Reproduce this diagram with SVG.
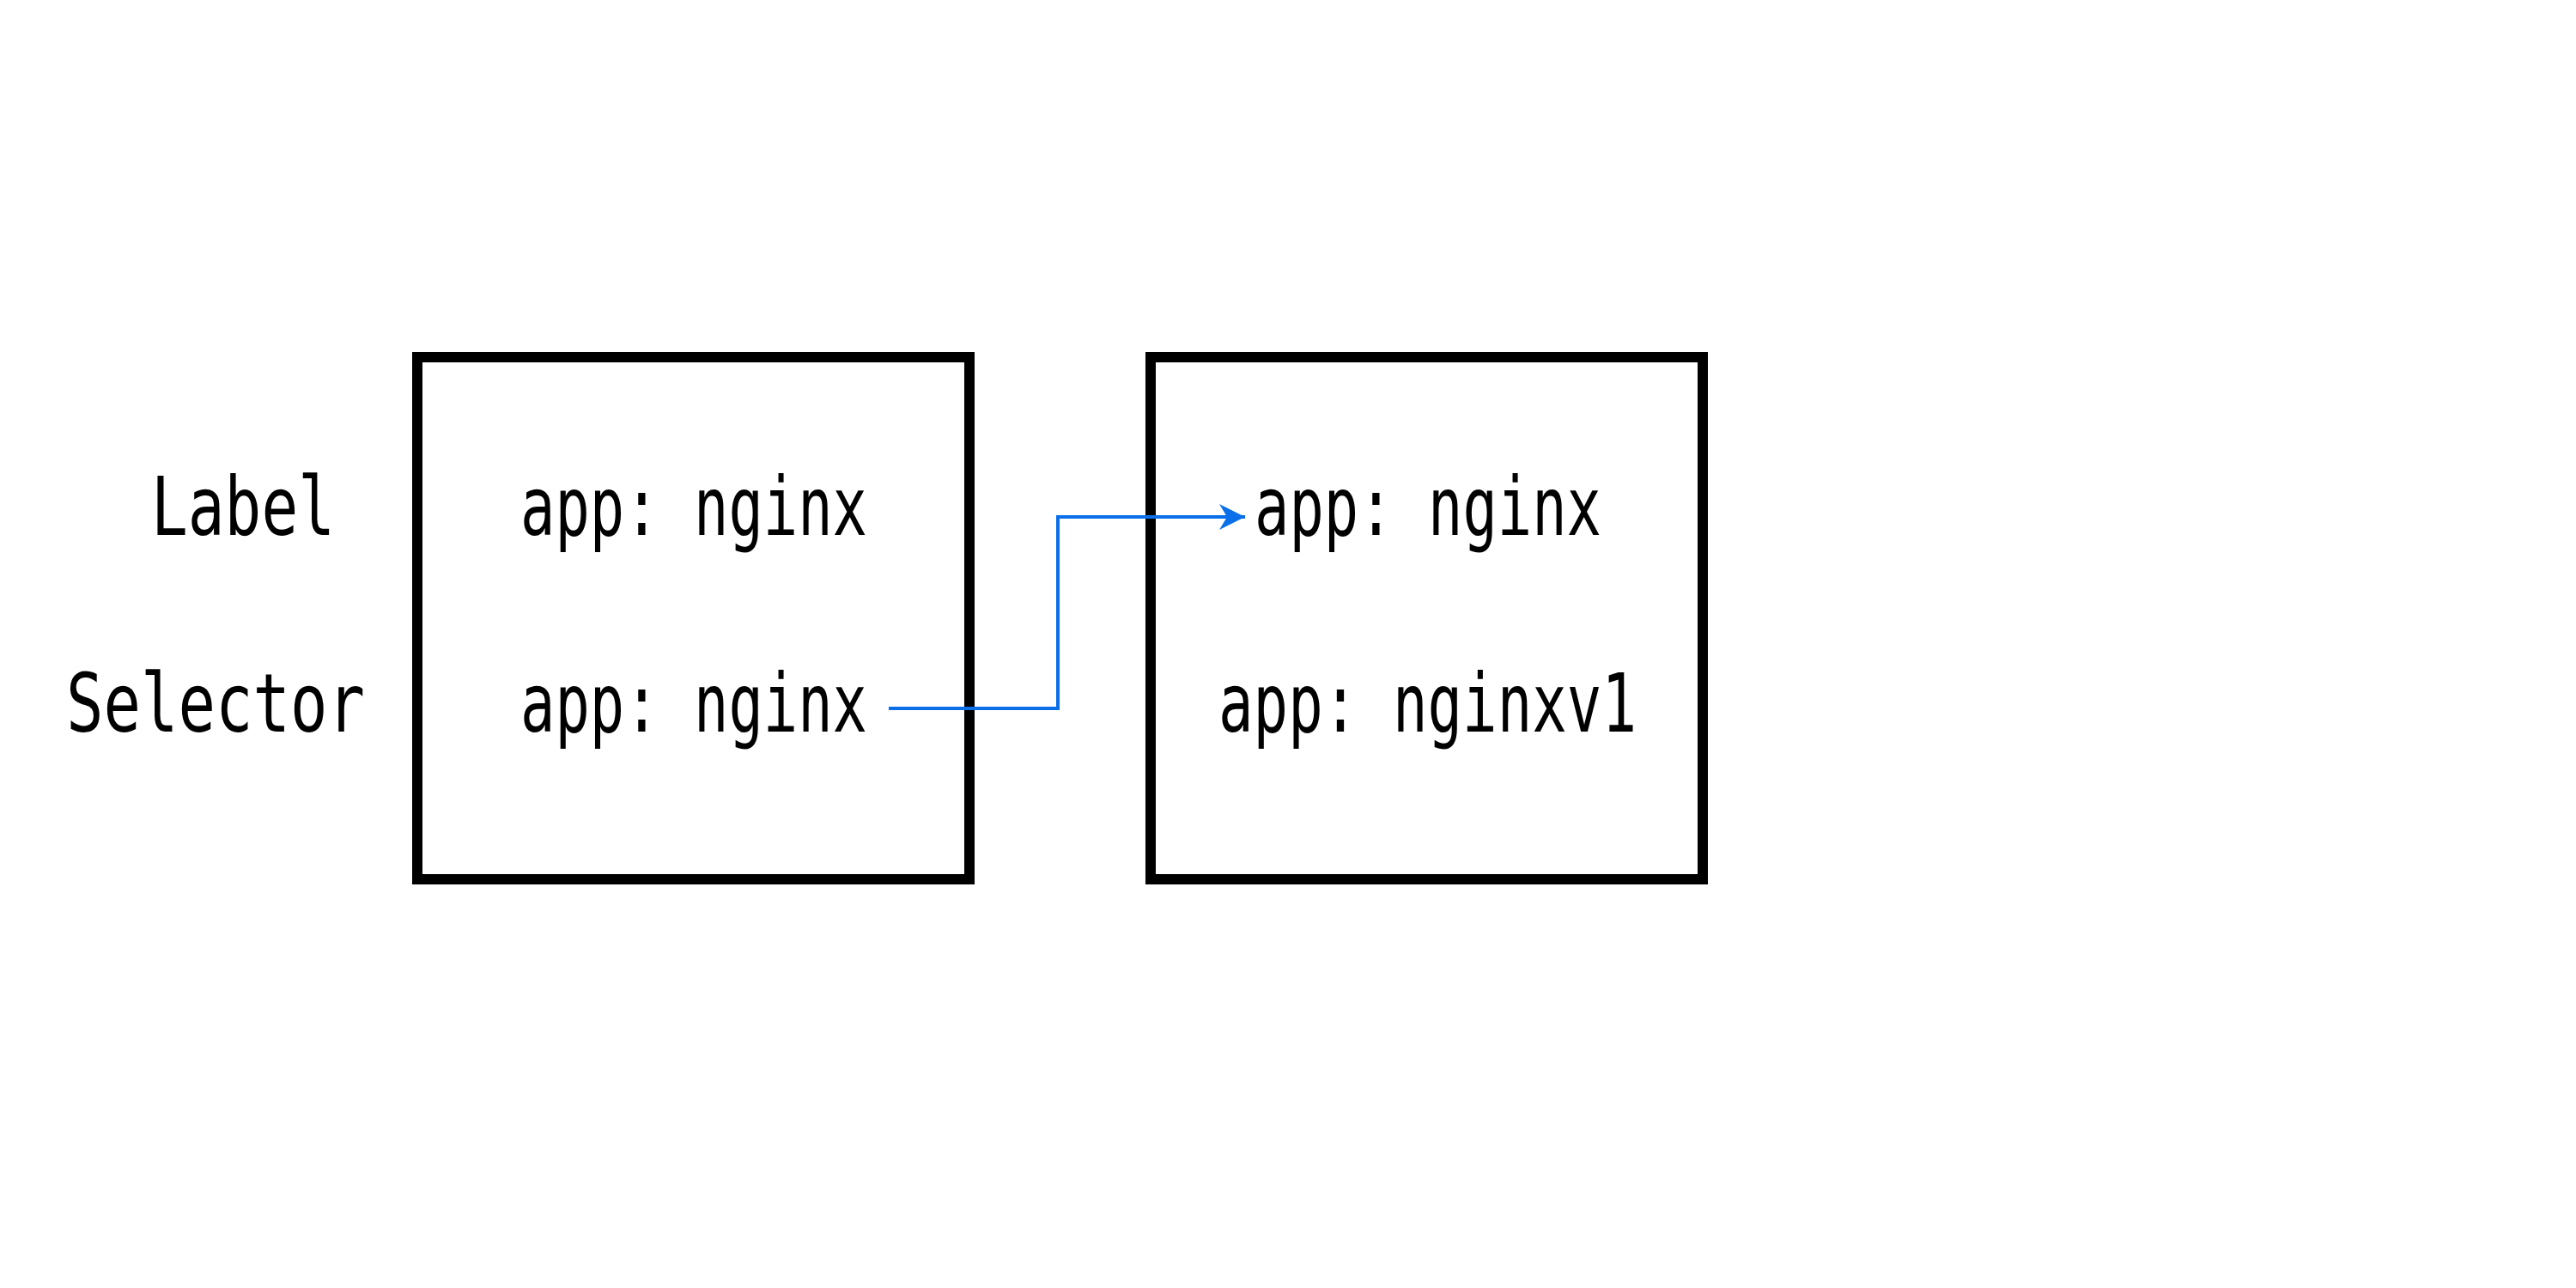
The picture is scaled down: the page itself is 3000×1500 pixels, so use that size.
<svg xmlns="http://www.w3.org/2000/svg" width="3000" height="1500" viewBox="0 0 3000 1500">
  <style>
    .box { fill: #ffffff; stroke: #000000; stroke-width: 12; }
    .t { font-family: "DejaVu Sans Mono", "Liberation Mono", monospace; font-size: 94px; fill: #000000; }
    .conn { fill: none; stroke: #0a6fe8; stroke-width: 4; }
  </style>
  <defs>
    <marker id="arrow" markerUnits="userSpaceOnUse" markerWidth="32" markerHeight="32" refX="30" refY="16" orient="auto">
      <path d="M0,1 L30,16 L0,31 L9,16 Z" fill="#0a6fe8"/>
    </marker>
  </defs>
  <rect width="3000" height="1500" fill="#ffffff"/>
  <g id="row-labels">
    <text class="t" x="176" y="623" textLength="214" lengthAdjust="spacingAndGlyphs">Label</text>
    <text class="t" x="77" y="852" textLength="348" lengthAdjust="spacingAndGlyphs">Selector</text>
  </g>
  <g id="node-left">
    <rect class="box" x="486" y="416" width="643" height="608"/>
    <text class="t" x="606" y="623" textLength="404" lengthAdjust="spacingAndGlyphs">app: nginx</text>
    <text class="t" x="606" y="852" textLength="404" lengthAdjust="spacingAndGlyphs">app: nginx</text>
  </g>
  <g id="node-right">
    <rect class="box" x="1340" y="416" width="643" height="608"/>
    <text class="t" x="1461" y="623" textLength="404" lengthAdjust="spacingAndGlyphs">app: nginx</text>
    <text class="t" x="1419" y="852" textLength="487" lengthAdjust="spacingAndGlyphs">app: nginxv1</text>
  </g>
  <g id="connectors">
    <path class="conn" d="M1035,825 H1232 V602 H1450" marker-end="url(#arrow)"/>
  </g>
</svg>
